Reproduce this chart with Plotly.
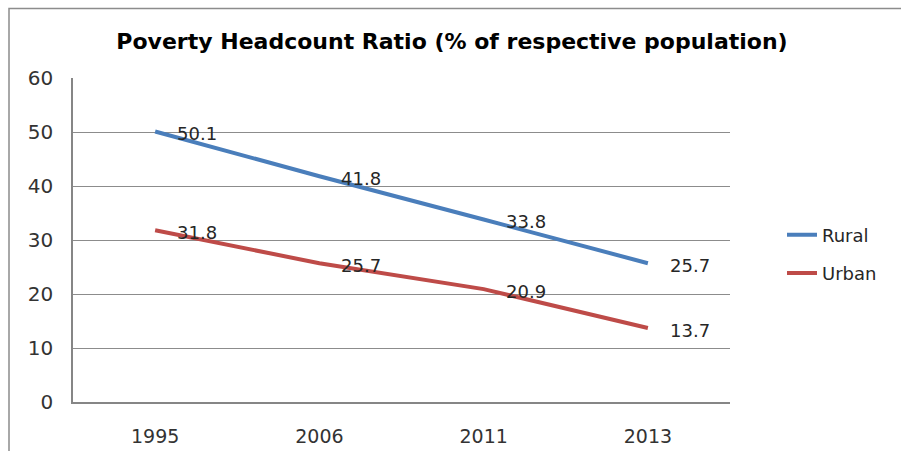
import plotly.graph_objects as go

years = ["1995", "2006", "2011", "2013"]
rural = [50.1, 41.8, 33.8, 25.7]
urban = [31.8, 25.7, 20.9, 13.7]
y_ticks = [0, 10, 20, 30, 40, 50, 60]
title_text = "Poverty Headcount Ratio (% of respective population)"

W, H = 901, 451
L, R, T, B = 73, 730, 78, 402  # plot area in page pixels

def px_x(px):
    return (px - L) / (R - L)

def px_y(py):
    return (B - py) / (B - T)

fig = go.Figure()
fig.add_trace(go.Scatter(x=years, y=rural, mode="lines", name="Rural",
                         line=dict(color="#4A7EBB", width=4),
                         legendgroup="a"))
fig.add_trace(go.Scatter(x=years, y=urban, mode="lines", name="Urban",
                         line=dict(color="#BE4B48", width=4),
                         legendgroup="b"))

label_font = dict(family="DejaVu Sans", size=18, color="#262626")
for series in (rural, urban):
    for i, v in enumerate(series):
        fig.add_annotation(x=i, y=v, xref="x", yref="y", text=f"{v:.1f}",
                           showarrow=False, xanchor="left", yanchor="middle",
                           xshift=20, yshift=-2, font=label_font)

# outer chart frame
fig.add_shape(type="rect", xref="paper", yref="paper",
              x0=px_x(9), x1=px_x(940), y0=px_y(490), y1=px_y(8.5),
              line=dict(color="#8C8C8C", width=1.5), fillcolor="rgba(0,0,0,0)",
              layer="below")

fig.update_layout(
    width=W, height=H,
    margin=dict(l=L, r=W - R, t=T, b=H - B, pad=0, autoexpand=False),
    paper_bgcolor="white", plot_bgcolor="white",
    title=dict(text="<b>" + title_text + "</b>",
               x=452 / W, xref="container", xanchor="center",
               y=1 - 41 / H, yref="container", yanchor="middle",
               font=dict(family="DejaVu Sans", size=22, color="#000000")),
    showlegend=True,
    legend=dict(x=px_x(782), y=px_y(254), xanchor="left", yanchor="middle",
                traceorder="grouped", tracegroupgap=12,
                font=dict(family="DejaVu Sans", size=18, color="#262626"),
                bgcolor="rgba(0,0,0,0)"),
    xaxis=dict(type="category", range=[-0.5, 3.5], showgrid=False,
               showline=True, linecolor="#868686", linewidth=1.5,
               ticks="", ticklabelstandoff=16, automargin=False,
               tickfont=dict(family="DejaVu Sans", size=19, color="#333333")),
    yaxis=dict(range=[0, 60], tickvals=y_ticks, showgrid=True,
               gridcolor="#8C8C8C", gridwidth=1, zeroline=False,
               showline=True, linecolor="#868686", linewidth=1.5,
               ticks="", ticklabelstandoff=14, automargin=False,
               tickfont=dict(family="DejaVu Sans", size=20, color="#333333")),
)

# remove the browser's default body margin so the figure fills the window
fig.write_html(
    "out.html",
    config={"displayModeBar": False},
    post_script="document.body.style.margin='0';"
                "document.documentElement.style.overflow='hidden';",
)
